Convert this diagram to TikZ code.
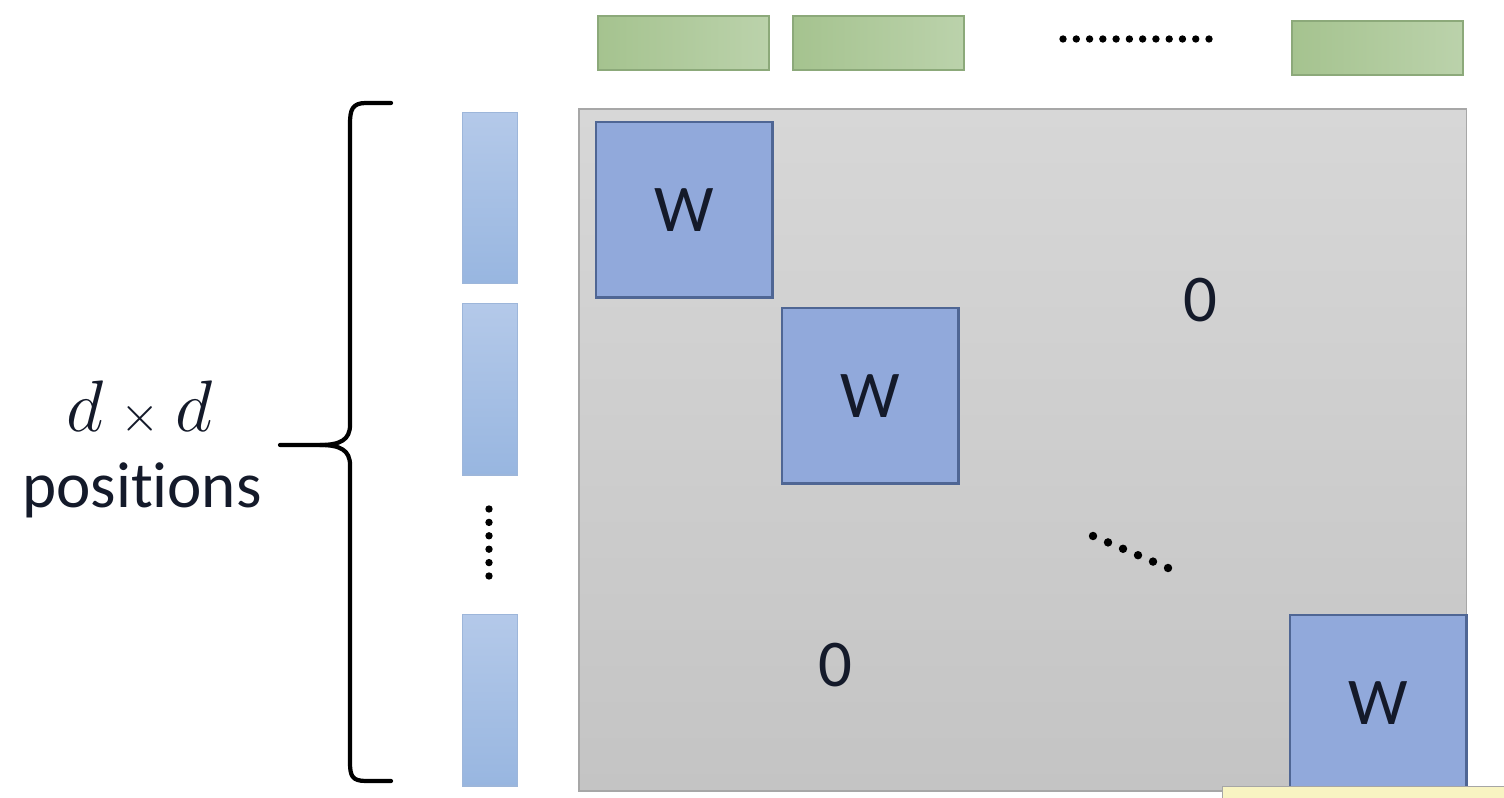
\documentclass[tikz,border=0pt]{standalone}
\usepackage{fontspec}
\setsansfont[Ligatures=NoCommon]{Carlito}
\usetikzlibrary{calc}
\definecolor{matlight}{HTML}{D7D7D7}
\definecolor{matdark}{HTML}{C4C4C4}
\definecolor{wfill}{HTML}{91A9DB}
\definecolor{wedge}{HTML}{4F6694}
\definecolor{gleft}{HTML}{A5C38F}
\definecolor{gright}{HTML}{BBD2AB}
\definecolor{gedge}{HTML}{8CA97A}
\definecolor{btop}{HTML}{B4C9E9}
\definecolor{bbot}{HTML}{98B6E0}
\definecolor{bedge}{HTML}{9DB6DA}
\definecolor{tipfill}{HTML}{F8F4C2}
\definecolor{txt}{HTML}{141A2A}
\tikzset{
  matrixbox/.style={draw=matdark!85!black, line width=0.5pt, top color=matlight, bottom color=matdark, anchor=north west, inner sep=0pt},
  wbox/.style={draw=wedge, line width=0.7pt, fill=wfill, anchor=north west, minimum width=1.76cm, minimum height=1.75cm, inner sep=0pt, font=\sffamily\fontsize{19}{22}\selectfont, text=txt},
  greenbar/.style={draw=gedge, line width=0.5pt, left color=gleft, right color=gright, anchor=north west, minimum width=1.71cm, minimum height=0.54cm, inner sep=0pt},
  bluebar/.style={draw=bedge, line width=0.4pt, top color=btop, bottom color=bbot, anchor=north west, minimum width=0.55cm, minimum height=1.71cm, inner sep=0pt},
  zerolabel/.style={font=\sffamily\fontsize{19}{22}\selectfont, text=txt},
  dotmark/.style={fill=black, circle, inner sep=0pt, minimum size=2.4pt},
  bracestyle/.style={draw=black, line width=1.2pt, line cap=round, line join=round}
}
\begin{document}
\begin{tikzpicture}[x=0.01cm, y=-0.01cm]
\useasboundingbox (0,0) rectangle (1504,798);
% gray matrix
\node[matrixbox, minimum width=8.87cm, minimum height=6.82cm] (mat) at (578,108) {};
% W blocks
\node[wbox] (w1) at (595,121) {W};
\node[wbox] (w2) at (781,307) {W};
\node[wbox] (w3) at (1289,614) {W};
% zeros
\node[zerolabel] (z1) at (1200,300) {0};
\node[zerolabel] (z2) at (835,665) {0};
% diagonal dots
\foreach \i in {0,...,5} {
  \node[dotmark] (dd\i) at ($(1093,536)!\i/5!(1168,568)$) {};
}
% green bars
\node[greenbar] (g1) at (597,15) {};
\node[greenbar] (g2) at (792,15) {};
\node[greenbar] (g3) at (1291,20) {};
\foreach \i in {0,...,11} {
  \node[dotmark, minimum size=2.1pt] (hd\i) at ($(1063,39)!\i/11!(1209,39)$) {};
}
% blue bars
\node[bluebar] (b1) at (462,112) {};
\node[bluebar] (b2) at (462,303) {};
\node[bluebar] (b3) at (462,614) {};
\foreach \i in {0,...,5} {
  \node[dotmark, minimum size=2.1pt] (vd\i) at ($(489,509)!\i/5!(489,576)$) {};
}
% brace
\coordinate (btopend) at (391,103);
\coordinate (bbotend) at (391,781);
\coordinate (btip) at (280,445);
\draw[bracestyle] (btopend) -- (366,103) .. controls (352,103) and (350,110) .. (350,124)
  -- (350,425) .. controls (350,440) and (340,445) .. (320,445) -- (btip);
\draw[bracestyle] (320,445) .. controls (340,445) and (350,450) .. (350,465)
  -- (350,762) .. controls (350,776) and (352,781) .. (366,781) -- (bbotend);
% labels
\node[font=\fontsize{19.5}{22}\selectfont, text=txt] (dd) at (140,408) {$d\mathbin{\scriptstyle\times}d$};
\node[font=\sffamily\fontsize{18.5}{22}\selectfont, text=txt] (pos) at (142,490) {positions};
% tooltip fragment
\node[draw=gray!70, line width=0.4pt, fill=tipfill, anchor=north west, minimum width=2.9cm, minimum height=0.2cm, inner sep=0pt] (tip) at (1222,786) {};
\end{tikzpicture}
\end{document}
